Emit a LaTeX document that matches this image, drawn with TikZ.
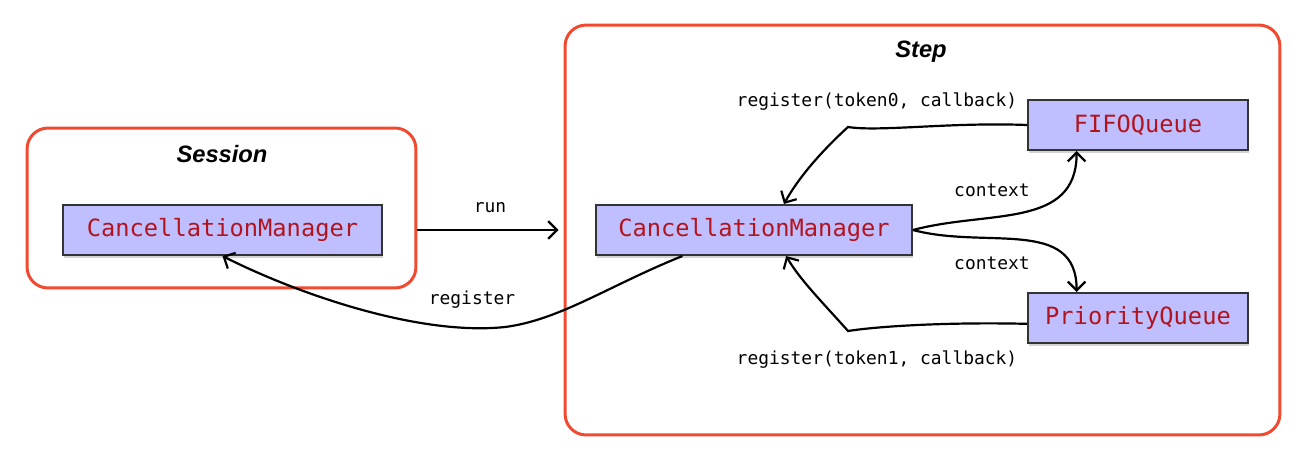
\documentclass[tikz,border=0pt]{standalone}
\usepackage{fontspec}
\setmainfont{Liberation Sans}
\setmonofont{DejaVu Sans Mono}
\usetikzlibrary{arrows.meta, shadows}
\definecolor{framered}{RGB}{242, 74, 48}
\definecolor{objblue}{RGB}{191, 191, 255}
\definecolor{objtext}{RGB}{178, 20, 30}

\tikzset{
  frame/.style={draw=framered, line width=1.7pt, rounded corners=0.42cm},
  title/.style={font=\fontsize{13.5}{16}\selectfont\bfseries\itshape},
  obj/.style={draw=black!80, line width=1.2pt, fill=objblue, minimum height=1cm,
    text=objtext, font=\fontsize{13.5}{16}\selectfont\ttfamily,
    drop shadow={opacity=0.35, shadow xshift=0.6pt, shadow yshift=-1.6pt}},
  msg/.style={font=\fontsize{10.2}{12}\selectfont\ttfamily},
  conn/.style={line width=1.25pt, -{Straight Barb[length=5pt,width=10pt]}}
}

\begin{document}
\begin{tikzpicture}[x=0.02cm, y=-0.02cm]
\useasboundingbox (0,0) rectangle (1302,460);

%frames
\node[frame, minimum width=7.78cm, minimum height=3.2cm] (sessionbox) at (221.5,208) {};
\node[frame, minimum width=14.3cm, minimum height=8.2cm] (stepbox) at (922.5,230) {};
\node[title] (session) at (222,154) {Session};
\node[title] (step) at (921,52) {Step};

%objects
\node[obj, minimum width=6.38cm] (cm1) at (222.5,230) {CancellationManager};
\node[obj, minimum width=6.32cm] (cm2) at (754,230) {CancellationManager};
\node[obj, minimum width=4.4cm] (fifo) at (1138,125) {FIFOQueue};
\node[obj, minimum width=4.4cm] (prio) at (1138,318) {PriorityQueue};

%messages
\node[msg] (lrun) at (490,208) {run};
\node[msg] (lreg) at (472,300) {register};
\node[msg] (lreg0) at (877,102) {register(token0, callback)};
\node[msg] (lctx0) at (992,190) {context};
\node[msg] (lctx1) at (992,263) {context};
\node[msg] (lreg1) at (877,360) {register(token1, callback)};

%connectors
\draw[conn] (cm1 -| sessionbox.east) -- ([xshift=-0.1cm]cm1 -| stepbox.west);
\draw[conn] (cm2.200) .. controls (610,285) and (560,320) .. (505,327)
  .. controls (420,336) and (300,295) .. (cm1.south);
\draw[conn] (fifo.west) .. controls (950,122) and (880,132) .. (848,127)
  .. controls (825,148) and (800,175) .. (cm2.41);
\draw[conn] (prio.183) .. controls (950,322) and (880,326) .. (848,331)
  .. controls (825,305) and (800,280) .. (cm2.-39);
\draw[conn] (cm2.east) to[out=15, in=-90, looseness=1.1] (fifo.203);
\draw[conn] (cm2.east) to[out=-15, in=90, looseness=1.1] (prio.157);

\end{tikzpicture}
\end{document}
